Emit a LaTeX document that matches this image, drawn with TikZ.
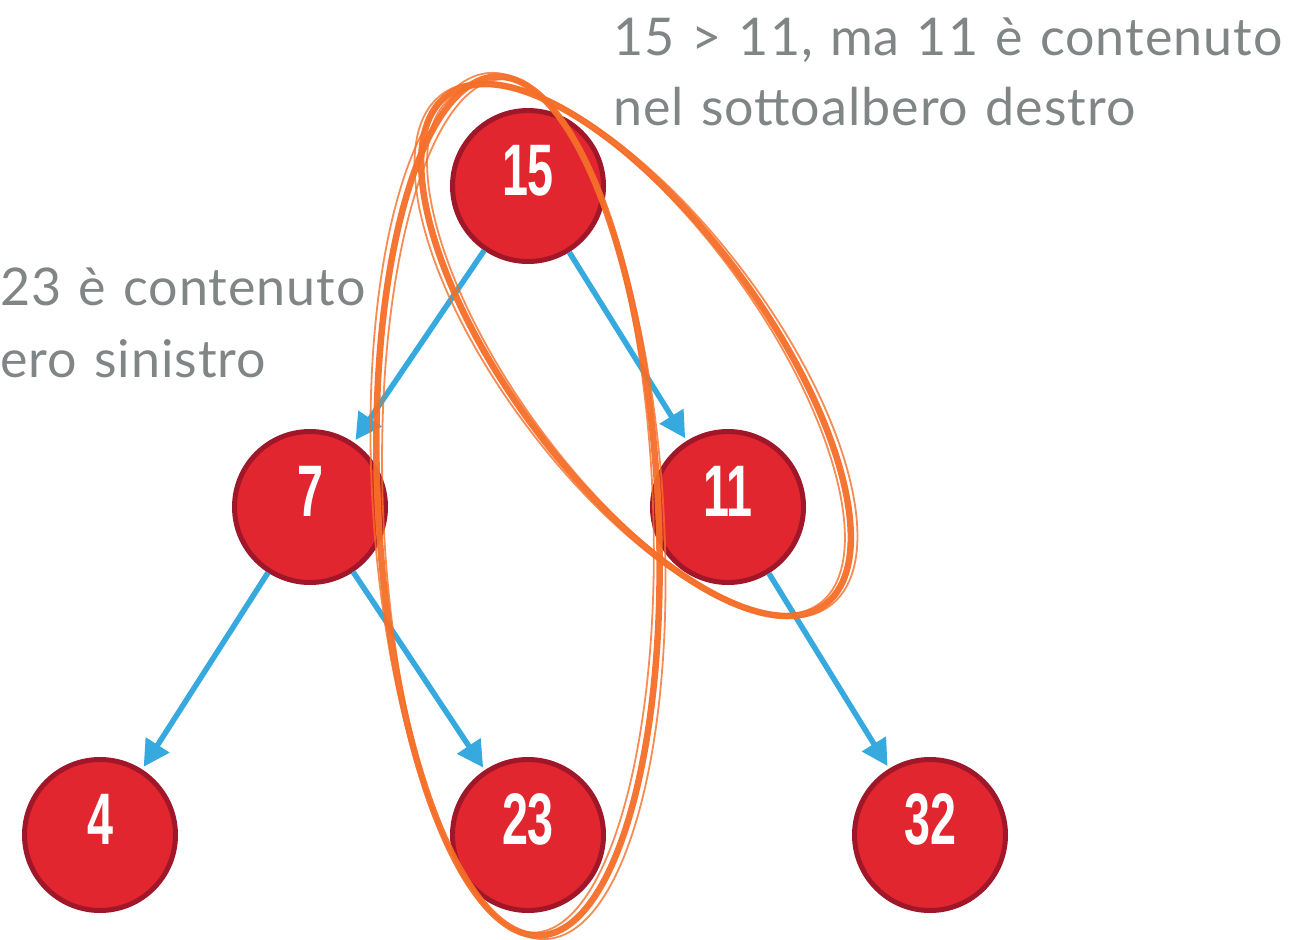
\documentclass[tikz,border=0pt]{standalone}
\usepackage{fontspec}
\setmainfont{Lato}[LetterSpace=1.9, WordSpace=1.2]
\newfontfamily\numfont{Liberation Sans}[FakeStretch=0.64]
\usetikzlibrary{arrows.meta}
\definecolor{nodefill}{HTML}{E2262F}
\definecolor{nodeborder}{HTML}{A0172A}
\definecolor{edgeblue}{HTML}{36A9DE}
\definecolor{textgray}{HTML}{808586}
\definecolor{marker}{HTML}{F56E28}
\begin{document}
\begin{tikzpicture}[x=1pt,y=-1pt,
  treenode/.style={circle, fill=nodefill, draw=nodeborder, line width=5pt,
    minimum size=151pt, inner sep=0pt, text=white,
    font=\numfont\bfseries\fontsize{73}{73}\selectfont,
    text height=52pt, text depth=34pt},
  edge/.style={draw=edgeblue, line width=5.5pt,
    -{Triangle[length=26pt,width=27pt]}, shorten >=3pt},
  note/.style={text=textgray, font=\fontsize{52}{60}\selectfont, inner sep=0pt},
  mainstroke/.style={draw=marker, line width=6.5pt, opacity=0.95},
  thinstroke/.style={draw=marker, line width=1.8pt, opacity=0.8}
]
\useasboundingbox (0,0) rectangle (1299,940);
\clip (0,0) rectangle (1299,940);

% texts
\node[note, anchor=base west] (t1) at (613,55) {15 > 11, ma 11 è contenuto};
\node[note, anchor=base west] (t2) at (613,125) {nel sottoalbero destro};
\node[note, anchor=base west] (t3) at (0,305) {23 è contenuto};
\node[note, anchor=base west] (t4) at (0,377) {ero sinistro};

% tree nodes
\node[treenode] (n15) at (528,186) {15};
\node[treenode] (n7)  at (310,507) {7};
\node[treenode] (n11) at (728,507) {11};
\node[treenode] (n4)  at (100,835) {4};
\node[treenode] (n23) at (528,835) {23};
\node[treenode] (n32) at (930,835) {32};

% edges
\draw[edge] (n15) -- (n7);
\draw[edge] (n15) -- (n11);
\draw[edge] (n7) -- (n4);
\draw[edge] (n7) -- (n23);
\draw[edge] (n11) -- (n32);

% hand-drawn ellipses
\coordinate (c1) at (518,506);
\coordinate (c2) at (636,350);
\draw[mainstroke, rotate around={3:(c1)}] (c1) ellipse [x radius=140, y radius=430];
\draw[thinstroke, rotate around={3.8:(c1)}] (c1) ellipse [x radius=145, y radius=434];
\draw[thinstroke, rotate around={2.2:(c1)}] (c1) ellipse [x radius=135, y radius=427];
\draw[mainstroke, rotate around={-53.5:(c2)}] (c2) ellipse [x radius=317, y radius=128];
\draw[thinstroke, rotate around={-52.7:(c2)}] (c2) ellipse [x radius=321, y radius=133];
\draw[thinstroke, rotate around={-54.2:(c2)}] (c2) ellipse [x radius=313, y radius=124];
\end{tikzpicture}
\end{document}
